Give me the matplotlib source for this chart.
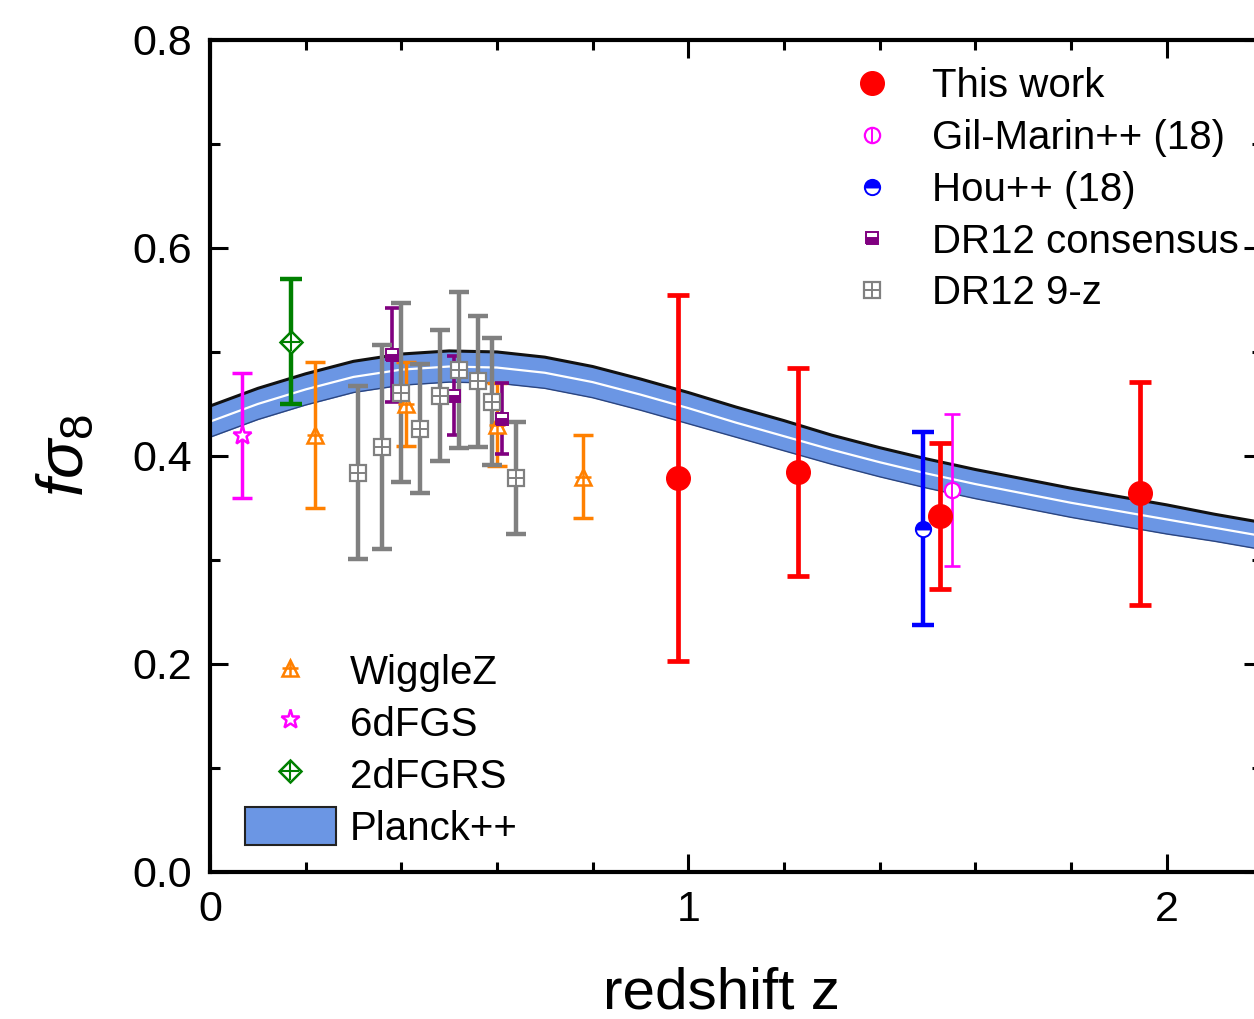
import matplotlib
matplotlib.use("Agg")
import matplotlib.pyplot as plt
from matplotlib.lines import Line2D
from matplotlib.patches import Patch
from matplotlib.ticker import MultipleLocator, FormatStrFormatter

plt.rcParams['font.family'] = ['Liberation Sans', 'DejaVu Sans']
plt.rcParams['mathtext.fontset'] = 'custom'
plt.rcParams['mathtext.it'] = 'Liberation Sans:italic'
plt.rcParams['mathtext.rm'] = 'Liberation Sans'

# this work (red)
this_z = [0.978, 1.23, 1.526, 1.944]
this_f = [0.379, 0.385, 0.342, 0.364]
this_err = [0.176, 0.100, 0.070, 0.107]

# Gil-Marin++ (18)
gm_z = [1.552]
gm_f = [0.367]
gm_err = [0.073]

# Hou++ (18)
hou_z = [1.49]
hou_f = [0.330]
hou_err = [0.093]

# DR12 consensus
cons_z = [0.38, 0.51, 0.61]
cons_f = [0.497, 0.458, 0.436]
cons_err = [0.045, 0.038, 0.034]

# DR12 9-z
nz_z = [0.31, 0.36, 0.40, 0.44, 0.48, 0.52, 0.56, 0.59, 0.64]
nz_f = [0.384, 0.409, 0.461, 0.426, 0.458, 0.483, 0.472, 0.452, 0.379]
nz_err = [0.083, 0.098, 0.086, 0.062, 0.063, 0.075, 0.063, 0.061, 0.054]

# WiggleZ
wz_z = [0.22, 0.41, 0.60, 0.78]
wz_f = [0.42, 0.45, 0.43, 0.38]
wz_err = [0.07, 0.04, 0.04, 0.04]

# 6dFGS, 2dFGRS
six_z = [0.067]
six_f = [0.42]
six_err = [0.06]
two_z = [0.17]
two_f = [0.51]
two_err = [0.06]

# Planck++ band
band_z = [0.0, 0.1, 0.2, 0.3, 0.4, 0.5, 0.6, 0.7, 0.8, 0.9, 1.0, 1.1,
          1.2, 1.3, 1.4, 1.5, 1.6, 1.7, 1.8, 1.9, 2.0, 2.1, 2.2]
band_hi = [0.448, 0.465, 0.479, 0.491, 0.498, 0.501, 0.500, 0.495, 0.486, 0.474, 0.461, 0.447,
           0.434, 0.420, 0.408, 0.397, 0.387, 0.378, 0.369, 0.361, 0.353, 0.344, 0.336]
band_mid = [0.433, 0.450, 0.464, 0.476, 0.483, 0.486, 0.485, 0.480, 0.471, 0.459, 0.446, 0.432,
            0.419, 0.406, 0.394, 0.383, 0.373, 0.364, 0.355, 0.347, 0.339, 0.331, 0.323]
band_lo = [0.418, 0.435, 0.449, 0.461, 0.468, 0.471, 0.470, 0.465, 0.456, 0.444, 0.431, 0.418,
           0.405, 0.392, 0.380, 0.369, 0.359, 0.350, 0.341, 0.333, 0.325, 0.318, 0.310]

fig = plt.figure(figsize=(12.54, 10.19), dpi=100, facecolor='white')
ax = fig.add_axes([0.1675, 0.1443, 0.839, 0.8165])

band_col = '#6b96e4'
ax.fill_between(band_z, band_lo, band_hi, color=band_col, lw=0, zorder=1)
ax.plot(band_z, band_hi, color='#111111', lw=2.2, zorder=2)
ax.plot(band_z, band_lo, color='#2b4580', lw=1.0, zorder=2)
ax.plot(band_z, band_mid, color='white', lw=1.6, zorder=2)

def bars(z, f, e, col, lw, cap):
    ax.errorbar(z, f, yerr=e, fmt='none', ecolor=col, elinewidth=lw,
                capsize=cap, capthick=lw, zorder=3)

# WiggleZ
bars(wz_z, wz_f, wz_err, '#ff8000', 2.5, 7)
ax.plot(wz_z, wz_f, ls='none', marker='^', ms=12, mfc='white', mec='#ff8000', mew=1.8, zorder=4)
ax.plot(wz_z, wz_f, ls='none', marker='+', ms=12, mec='#ff8000', mew=1.8, zorder=4)
# 6dFGS
bars(six_z, six_f, six_err, '#ff00ff', 2.5, 7)
ax.plot(six_z, six_f, ls='none', marker='*', ms=14, mfc='white', mec='#ff00ff', mew=1.8, zorder=4)
# 2dFGRS
bars(two_z, two_f, two_err, '#008000', 3.2, 8)
ax.plot(two_z, two_f, ls='none', marker='D', ms=11, mfc='white', mec='#008000', mew=1.8, zorder=4)
ax.plot(two_z, two_f, ls='none', marker='+', ms=13, mec='#008000', mew=1.5, zorder=4)
# DR12 consensus
bars(cons_z, cons_f, cons_err, '#800080', 2.6, 5)
ax.plot(cons_z, cons_f, ls='none', marker='s', ms=9, fillstyle='bottom', mfc='#800080',
        mfcalt='white', mec='#800080', mew=1.4, zorder=4)
# DR12 9-z
bars(nz_z, nz_f, nz_err, '#808080', 3.2, 7)
ax.plot(nz_z, nz_f, ls='none', marker='s', ms=11, mfc='white', mec='#808080', mew=1.6, zorder=4)
ax.plot(nz_z, nz_f, ls='none', marker='+', ms=11, mec='#808080', mew=1.4, zorder=4)
# Hou
bars(hou_z, hou_f, hou_err, '#0000ff', 3.2, 8)
ax.plot(hou_z, hou_f, ls='none', marker='o', ms=11, fillstyle='top', mfc='#0000ff',
        mfcalt='white', mec='#0000ff', mew=1.4, zorder=4)
# Gil-Marin
bars(gm_z, gm_f, gm_err, '#ff00ff', 1.9, 6)
ax.plot(gm_z, gm_f, ls='none', marker='o', ms=11, mfc='white', mec='#ff00ff', mew=1.6, zorder=4)
ax.plot(gm_z, gm_f, ls='none', marker='|', ms=10, mec='#ff00ff', mew=1.4, zorder=4)
# this work
bars(this_z, this_f, this_err, '#ff0000', 3.4, 8)
ax.plot(this_z, this_f, ls='none', marker='o', ms=17, color='#ff0000', zorder=5)

ax.set_xlim(0, 2.2)
ax.set_ylim(0, 0.8)
ax.xaxis.set_major_locator(MultipleLocator(1))
ax.xaxis.set_minor_locator(MultipleLocator(0.2))
ax.yaxis.set_major_locator(MultipleLocator(0.2))
ax.yaxis.set_minor_locator(MultipleLocator(0.1))
ax.yaxis.set_major_formatter(FormatStrFormatter('%.1f'))
ax.tick_params(which='both', direction='in', top=True, right=True, width=2.2, labelsize=31)
ax.tick_params(which='major', length=13, pad=13)
ax.tick_params(which='minor', length=7)
for s in ax.spines.values():
    s.set_linewidth(3)

ax.set_xlabel('redshift z', fontsize=42)
ax.xaxis.set_label_coords(0.486, -0.114)
ax.set_ylabel(r'$f\sigma_8$', fontsize=47, labelpad=26)

fs = 29
h1 = [
    Line2D([], [], ls='none', marker='o', ms=17, color='#ff0000'),
    (Line2D([], [], ls='none', marker='o', ms=11, mfc='white', mec='#ff00ff', mew=1.6),
     Line2D([], [], ls='none', marker='|', ms=10, mec='#ff00ff', mew=1.4)),
    Line2D([], [], ls='none', marker='o', ms=11, fillstyle='top', mfc='#0000ff',
           mfcalt='white', mec='#0000ff', mew=1.4),
    Line2D([], [], ls='none', marker='s', ms=9, fillstyle='bottom', mfc='#800080',
           mfcalt='white', mec='#800080', mew=1.4),
    (Line2D([], [], ls='none', marker='s', ms=11, mfc='white', mec='#808080', mew=1.6),
     Line2D([], [], ls='none', marker='+', ms=11, mec='#808080', mew=1.4)),
]
l1 = ['This work', 'Gil-Marin++ (18)', 'Hou++ (18)', 'DR12 consensus', 'DR12 9-z']
leg1 = ax.legend(h1, l1, loc='upper left', bbox_to_anchor=(0.563, 0.996), frameon=False,
                 fontsize=fs, handlelength=2.26, handletextpad=0.35, labelspacing=0.34,
                 borderaxespad=0.2)
ax.add_artist(leg1)

h2 = [
    (Line2D([], [], ls='none', marker='^', ms=12, mfc='white', mec='#ff8000', mew=1.8),
     Line2D([], [], ls='none', marker='+', ms=12, mec='#ff8000', mew=1.8)),
    Line2D([], [], ls='none', marker='*', ms=14, mfc='white', mec='#ff00ff', mew=1.8),
    (Line2D([], [], ls='none', marker='D', ms=11, mfc='white', mec='#008000', mew=1.8),
     Line2D([], [], ls='none', marker='+', ms=13, mec='#008000', mew=1.5)),
    Patch(facecolor=band_col, edgecolor='#222222', lw=1.5),
]
l2 = ['WiggleZ', '6dFGS', '2dFGRS', 'Planck++']
ax.legend(h2, l2, loc='lower left', bbox_to_anchor=(0.01, 0.0), frameon=False,
          fontsize=fs, handlelength=2.26, handleheight=1.1, handletextpad=0.35,
          labelspacing=0.27, borderaxespad=0.2)

fig.savefig('out.png', dpi=100)
